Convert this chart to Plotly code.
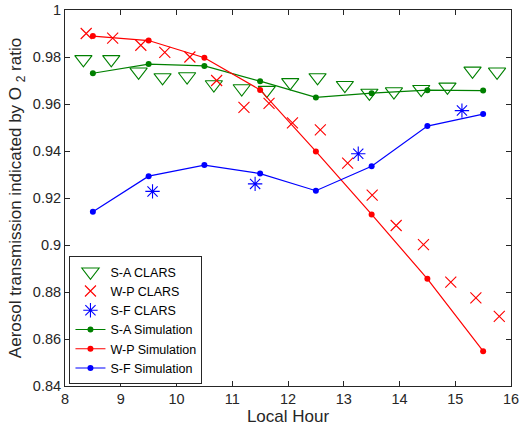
import plotly.graph_objects as go

# CLARS observations
sa_clars_x = [8.33, 8.83, 9.32, 9.75, 10.19, 10.67, 11.17, 11.62, 12.04, 12.53, 13.02, 13.46, 13.90, 14.39, 14.86, 15.31, 15.75]
sa_clars_y = [0.979, 0.979, 0.9737, 0.9713, 0.9717, 0.9683, 0.9666, 0.9659, 0.9692, 0.9713, 0.968, 0.9647, 0.9653, 0.9663, 0.9673, 0.9741, 0.9737]

wp_clars_x = [8.38, 8.855, 9.36, 9.79, 10.24, 10.72, 11.21, 11.66, 12.08, 12.58, 13.07, 13.51, 13.94, 14.43, 14.92, 15.37, 15.79]
wp_clars_y = [0.990, 0.988, 0.985, 0.982, 0.980, 0.970, 0.9586, 0.9603, 0.952, 0.949, 0.9348, 0.9212, 0.9083, 0.9002, 0.8842, 0.8775, 0.8696]

sf_clars_x = [9.57, 11.41, 13.26, 15.12]
sf_clars_y = [0.9228, 0.926, 0.9388, 0.9572]

# Simulations
sim_x = [8.5, 9.5, 10.5, 11.5, 12.5, 13.5, 14.5, 15.5]
sa_sim_y = [0.9731, 0.977, 0.9762, 0.9697, 0.9628, 0.9646, 0.9659, 0.9657]
wp_sim_y = [0.9889, 0.987, 0.9797, 0.966, 0.9398, 0.913, 0.8856, 0.8548]
sf_sim_y = [0.9141, 0.9293, 0.934, 0.9304, 0.9231, 0.9335, 0.9506, 0.9557]

x_ticks = [8, 9, 10, 11, 12, 13, 14, 15, 16]
y_ticks = [0.84, 0.86, 0.88, 0.9, 0.92, 0.94, 0.96, 0.98, 1]
y_tick_labels = ["0.84", "0.86", "0.88", "0.9", "0.92", "0.94", "0.96", "0.98", "1"]

GREEN = "#008000"
RED = "#FF0000"
BLUE = "#0000FF"
FONT = "Liberation Sans, Arial, Helvetica, sans-serif"
AX = "#262626"

fig = go.Figure()
fig.add_trace(go.Scatter(x=sa_clars_x, y=sa_clars_y, mode="markers", name="S-A CLARS",
                         marker=dict(symbol="triangle-down-open", size=15, color=GREEN, line=dict(width=1.1, color=GREEN))))
fig.add_trace(go.Scatter(x=wp_clars_x, y=wp_clars_y, mode="markers", name="W-P CLARS",
                         marker=dict(symbol="x-thin-open", size=11, color=RED, line=dict(width=1.1, color=RED))))
fig.add_trace(go.Scatter(x=sf_clars_x, y=sf_clars_y, mode="markers", name="S-F CLARS",
                         marker=dict(symbol="asterisk-open", size=12, color=BLUE, line=dict(width=1.1, color=BLUE))))
fig.add_trace(go.Scatter(x=sim_x, y=sa_sim_y, mode="lines+markers", name="S-A Simulation",
                         line=dict(color=GREEN, width=1.2), marker=dict(symbol="circle", size=6, color=GREEN)))
fig.add_trace(go.Scatter(x=sim_x, y=wp_sim_y, mode="lines+markers", name="W-P Simulation",
                         line=dict(color=RED, width=1.2), marker=dict(symbol="circle", size=6, color=RED)))
fig.add_trace(go.Scatter(x=sim_x, y=sf_sim_y, mode="lines+markers", name="S-F Simulation",
                         line=dict(color=BLUE, width=1.2), marker=dict(symbol="circle", size=6, color=BLUE)))

axis_common = dict(showgrid=False, zeroline=False, showline=True, linecolor=AX, linewidth=1,
                   mirror="ticks", ticks="inside", ticklen=5, tickcolor=AX, tickwidth=1,
                   automargin=False,
                   tickfont=dict(family=FONT, size=14.5, color=AX))

fig.update_xaxes(range=[8, 16], tickvals=x_ticks,
                 title=dict(text="Local Hour", font=dict(family=FONT, size=17, color=AX), standoff=2),
                 **axis_common)
fig.update_yaxes(range=[0.84, 1.0], tickvals=y_ticks, ticktext=y_tick_labels,
                 title=dict(text="Aerosol transmission indicated by O <sub>2</sub> ratio",
                            font=dict(family=FONT, size=17, color=AX), standoff=6),
                 **axis_common)

fig.update_layout(
    width=521, height=431,
    margin=dict(l=65, r=10, t=10, b=45),
    paper_bgcolor="white", plot_bgcolor="white",
    font=dict(family=FONT, color=AX),
    showlegend=True,
    legend=dict(x=0.01, y=0.005, xanchor="left", yanchor="bottom",
                bgcolor="white", bordercolor=AX, borderwidth=1,
                font=dict(family=FONT, size=12.5, color="black"),
                tracegroupgap=0, itemwidth=30),
)

fig.write_html("out.html")
